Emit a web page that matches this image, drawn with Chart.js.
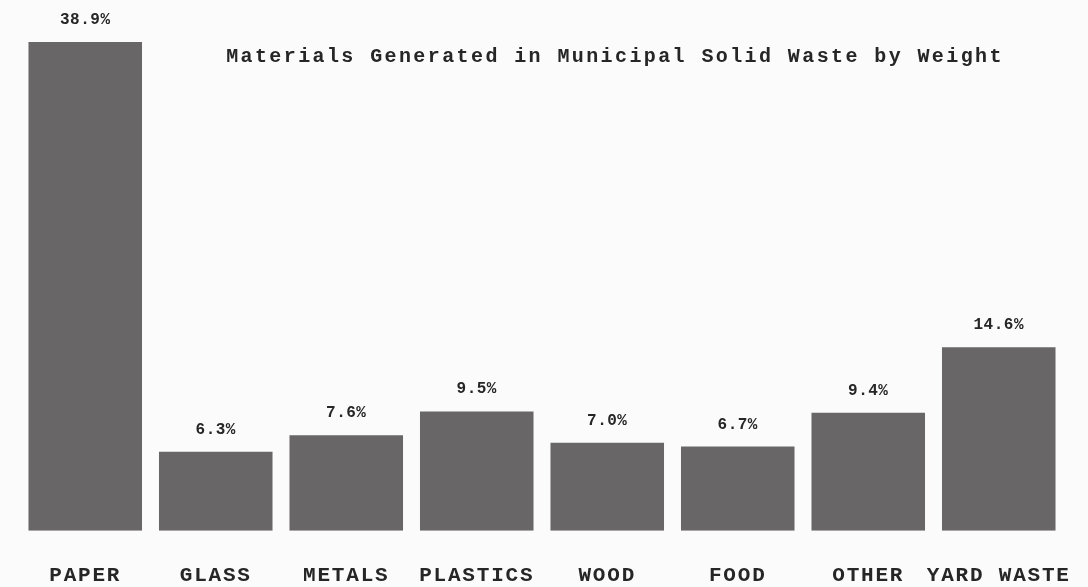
<!DOCTYPE html>
<html>
<head>
<meta charset="utf-8">
<script src="https://cdn.jsdelivr.net/npm/chart.js@4.4.1/dist/chart.umd.min.js"></script>
<style>
  html, body { margin: 0; padding: 0; background: #fbfbfb; }
  #wrap { width: 1088px; height: 587px; position: relative; }
</style>
</head>
<body>
<div id="wrap"><canvas id="c"></canvas></div>
<script>
const categories = ["PAPER", "GLASS", "METALS", "PLASTICS", "WOOD", "FOOD", "OTHER", "YARD WASTE"];
const percentValues = [38.9, 6.3, 7.6, 9.5, 7.0, 6.7, 9.4, 14.6];
const valueLabels = ["38.9%", "6.3%", "7.6%", "9.5%", "7.0%", "6.7%", "9.4%", "14.6%"];
const chartTitle = "Materials Generated in Municipal Solid Waste by Weight";

const FONT = '"Liberation Mono", "DejaVu Sans Mono", monospace';
const TEXT_COLOR = '#262626';

const spacingPlugin = {
  id: 'spacing',
  beforeDraw(chart) {
    chart.ctx.letterSpacing = '1.8px';
  }
};

const labelPlugin = {
  id: 'labels',
  afterDatasetsDraw(chart) {
    const ctx = chart.ctx;
    const meta = chart.getDatasetMeta(0);
    ctx.save();
    ctx.letterSpacing = '0.5px';
    ctx.font = 'bold 16px ' + FONT;
    ctx.fillStyle = TEXT_COLOR;
    ctx.textAlign = 'center';
    ctx.textBaseline = 'alphabetic';
    meta.data.forEach((bar, i) => {
      ctx.fillText(valueLabels[i], bar.x, bar.y - 18);
    });
    // title
    ctx.letterSpacing = '2.4px';
    ctx.font = 'bold 20px ' + FONT;
    ctx.textAlign = 'center';
    const area = chart.chartArea;
    ctx.fillText(chartTitle, 615, area.top + 20);
    ctx.restore();
  }
};

new Chart(document.getElementById('c'), {
  type: 'bar',
  data: {
    labels: categories,
    datasets: [{
      data: percentValues,
      backgroundColor: '#696668',
      borderWidth: 0,
      categoryPercentage: 1.0,
      barPercentage: 0.87
    }]
  },
  options: {
    responsive: true,
    maintainAspectRatio: false,
    animation: false,
    layout: { padding: { top: 42, left: 20, right: 24, bottom: -33 } },
    plugins: {
      legend: { display: false },
      title: { display: false },
      tooltip: { enabled: false }
    },
    scales: {
      x: {
        grid: { display: false, drawTicks: false },
        border: { display: false },
        afterFit(scale) {
          scale.paddingLeft = 0;
          scale.paddingRight = 0;
        },
        ticks: {
          color: TEXT_COLOR,
          font: { family: FONT, size: 21, weight: 'bold' },
          padding: 32,
          maxRotation: 0,
          autoSkip: false
        }
      },
      y: {
        display: false,
        min: 0,
        max: 38.9
      }
    }
  },
  plugins: [spacingPlugin, labelPlugin]
});
</script>
</body>
</html>
